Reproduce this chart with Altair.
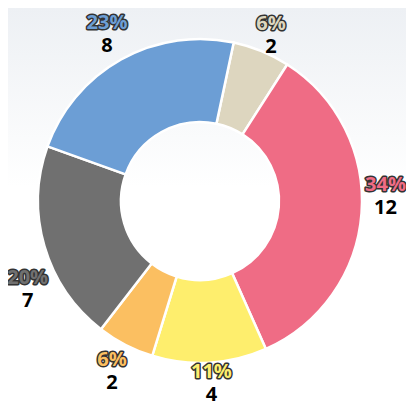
import math
import altair as alt
import pandas as pd

segments = ["Beige", "Pink", "Yellow", "Orange", "Gray", "Blue"]
counts = [2, 12, 4, 2, 7, 8]
pct_labels = ["6%", "34%", "11%", "6%", "20%", "23%"]
colors = ["#ddd6bf", "#ef6c85", "#feee6d", "#fbbf61", "#707070", "#6c9ed5"]

df = pd.DataFrame({
    "segment": segments,
    "count": counts,
    "pct": pct_labels,
    "order": list(range(len(segments))),
})

start = math.radians(12)
theta = alt.Theta("count:Q", stack=True,
                  scale=alt.Scale(range=[start, start + 2 * math.pi]))
color = alt.Color("segment:N", scale=alt.Scale(domain=segments, range=colors), legend=None)
order = alt.Order("order:Q")
cx, cy = 192, 193
W, H = 398, 398

bg = alt.Chart(pd.DataFrame({"a": [0]})).mark_rect(
    fill=alt.LinearGradient(
        gradient="linear",
        stops=[alt.GradientStop(color="#edf0f4", offset=0),
               alt.GradientStop(color="#ffffff", offset=0.45),
               alt.GradientStop(color="#ffffff", offset=1)],
        x1=0, x2=0, y1=0, y2=1),
).encode(x=alt.value(0), x2=alt.value(W), y=alt.value(0), y2=alt.value(H))

base = alt.Chart(df)

arc = base.mark_arc(outerRadius=162, innerRadius=79, stroke="white", strokeWidth=2.5).encode(
    theta=theta, color=color, order=order, x=alt.value(cx), y=alt.value(cy))


def label_layers(test, dx=0, dy=0, radius=191):
    kw = dict(radius=radius, fontSize=20, fontWeight="bold", font="Open Sans", dx=dx)
    b = base.transform_calculate(
        tp=f"({test}) ? datum.pct : ''",
        tc=f"({test}) ? '' + datum.count : ''",
    )
    common = dict(theta=theta, order=order, x=alt.value(cx), y=alt.value(cy))
    outline = b.mark_text(dy=dy - 11, stroke="#333333", strokeWidth=3, strokeJoin="round",
                          fill="#333333", **kw).encode(text="tp:N", **common)
    fill = b.mark_text(dy=dy - 11, **kw).encode(text="tp:N", color=color, **common)
    cnt = b.mark_text(dy=dy + 12, color="#000000", **kw).encode(text="tc:N", **common)
    return [outline, fill, cnt]


layers = [bg, arc]
layers += label_layers("datum.segment == 'Blue' || datum.segment == 'Orange'")
layers += label_layers("datum.segment == 'Yellow'", dy=-9)
layers += label_layers("datum.segment == 'Beige'", radius=187, dy=7)
layers += label_layers("datum.segment == 'Pink'", dx=-5, dy=-19)
layers += label_layers("datum.segment == 'Gray'", dx=11, dy=34)

chart = alt.layer(*layers).properties(
    width=W, height=H, autosize="none", padding=0
).configure_view(stroke=None)

chart.save("out.html", embed_options={"renderer": "svg", "actions": False})
